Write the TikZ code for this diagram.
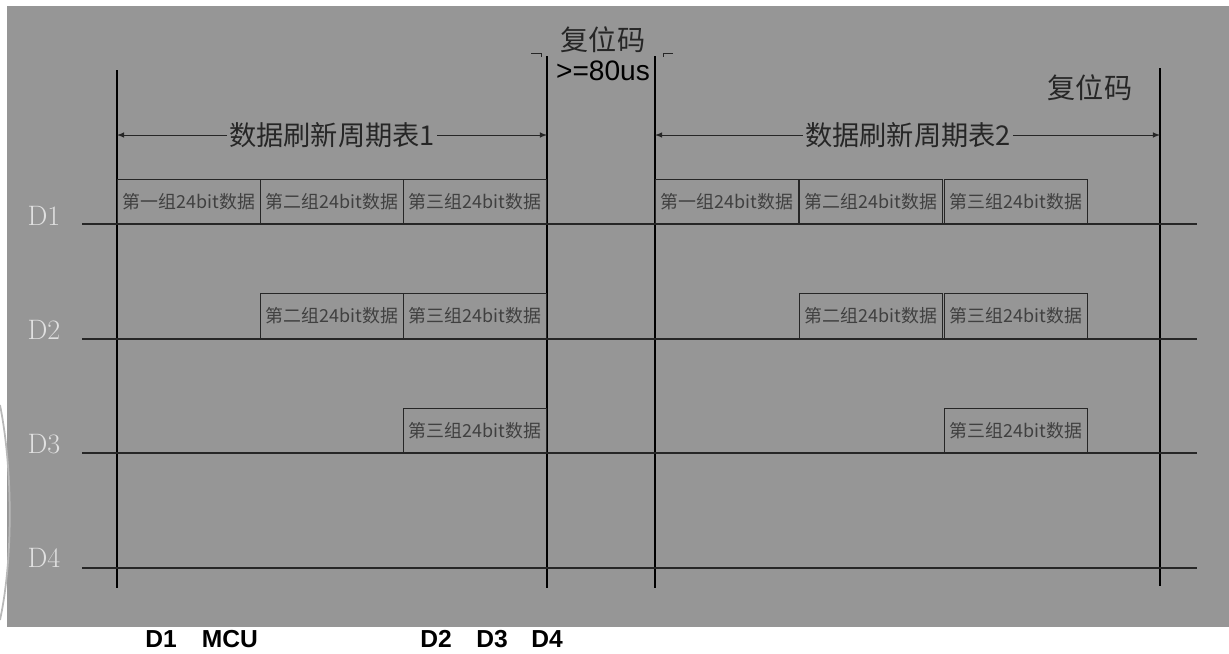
\documentclass[tikz,border=0pt]{standalone}
\usepackage{fontspec}
\newfontfamily\cjk{Noto Sans CJK SC}
\newfontfamily\arial{Liberation Sans}
\usetikzlibrary{arrows}
\definecolor{bggray}{RGB}{150,150,150}
\tikzset{arrow/.style={->, >=latex}}
\tikzset{
  sig/.style={draw=black!85, line width=0.6pt},
  frame/.style={draw=black, line width=0.7pt},
  slot/.style={draw=black!85, line width=0.6pt, minimum width=2.87cm, minimum height=0.89cm,
    inner sep=0pt, font=\cjk\fontsize{10.2}{12}\selectfont, text=black!75},
  chan/.style={font=\fontsize{16}{18}\selectfont, text=white!88!black},
  period/.style={font=\cjk\fontsize{15.5}{18}\selectfont, text=black!85, inner sep=1pt},
  rst/.style={font=\cjk\fontsize{16}{18}\selectfont, text=black!85, inner sep=0pt},
  pin/.style={font=\arial\bfseries\fontsize{14}{16}\selectfont, inner sep=0pt},
}

\begin{document}
\begin{tikzpicture}[x=0.02cm, y=-0.02cm]
    \useasboundingbox (0,0) rectangle (1229,653);
    \fill[bggray] (7,6) rectangle (1229,627);
    % faint arc on the left edge
    \draw[white!72!black, line width=1pt] (0,405) .. controls (13,470) and (13,560) .. (0,620);

    % frame lines
    \coordinate (v1t) at (117,70);
    \coordinate (v1b) at (117,588);
    \coordinate (v2t) at (547,56);
    \coordinate (v2b) at (547,588);
    \coordinate (v3t) at (655,56);
    \coordinate (v3b) at (655,588);
    \coordinate (v4t) at (1160,68);
    \coordinate (v4b) at (1160,586);
    \draw[frame] (v1t) -- (v1b);
    \draw[frame] (v2t) -- (v2b);
    \draw[frame] (v3t) -- (v3b);
    \draw[frame] (v4t) -- (v4b);

    % signal lines
    \foreach \n/\y in {1/224, 2/339, 3/453, 4/568} {
        \coordinate (L\n) at (82,\y);
        \coordinate (R\n) at (1197,\y);
        \draw[sig] (L\n) -- (R\n);
    }
    \node[chan] (D1) at (44,216) {D1};
    \node[chan] (D2) at (44,330) {D2};
    \node[chan] (D3) at (44,444) {D3};
    \node[chan] (D4) at (44,558) {D4};

    % refresh periods
    \node[period] (per1) at (332,135) {数据刷新周期表1};
    \coordinate (per1L) at (117,135);
    \coordinate (per1R) at (547,135);
    \draw[arrow, black!85] (per1.west) -- (per1L);
    \draw[arrow, black!85] (per1.east) -- (per1R);
    \node[period] (per2) at (908,135) {数据刷新周期表2};
    \coordinate (per2L) at (655,135);
    \coordinate (per2R) at (1160,135);
    \draw[arrow, black!85] (per2.west) -- (per2L);
    \draw[arrow, black!85] (per2.east) -- (per2R);

    % reset code
    \node[rst] (rst1) at (603,40) {复位码};
    \node[rst, font=\arial\fontsize{16}{18}\selectfont, text=black] (rstt) at (603,71) {>=80us};
    \node[rst] (rst2) at (1090,88) {复位码};
    \coordinate (tk1a) at (531,53);
    \coordinate (tk1b) at (541,53);
    \coordinate (tk1c) at (541,57);
    \draw[black!85, line width=0.5pt] (tk1a) -- (tk1b) -- (tk1c);
    \coordinate (tk2a) at (673,53);
    \coordinate (tk2b) at (663,53);
    \coordinate (tk2c) at (663,57);
    \draw[black!85, line width=0.5pt] (tk2a) -- (tk2b) -- (tk2c);

    % data slots, first period
    \node[slot] (a11) at (189,202) {第一组24bit数据};
    \node[slot] (a12) at (332,202) {第二组24bit数据};
    \node[slot] (a13) at (475,202) {第三组24bit数据};
    \node[slot] (a22) at (332,316) {第二组24bit数据};
    \node[slot] (a23) at (475,316) {第三组24bit数据};
    \node[slot] (a33) at (475,431) {第三组24bit数据};
    % data slots, second period
    \node[slot] (b11) at (727,202) {第一组24bit数据};
    \node[slot] (b12) at (871,202) {第二组24bit数据};
    \node[slot] (b13) at (1016,202) {第三组24bit数据};
    \node[slot] (b22) at (871,316) {第二组24bit数据};
    \node[slot] (b23) at (1016,316) {第三组24bit数据};
    \node[slot] (b33) at (1016,431) {第三组24bit数据};

    % pins
    \node[pin] (pD1) at (161,639) {D1};
    \node[pin] (pMCU) at (230,639) {MCU};
    \node[pin] (pD2) at (436,639) {D2};
    \node[pin] (pD3) at (492,639) {D3};
    \node[pin] (pD4) at (547,639) {D4};
\end{tikzpicture}
\end{document}
